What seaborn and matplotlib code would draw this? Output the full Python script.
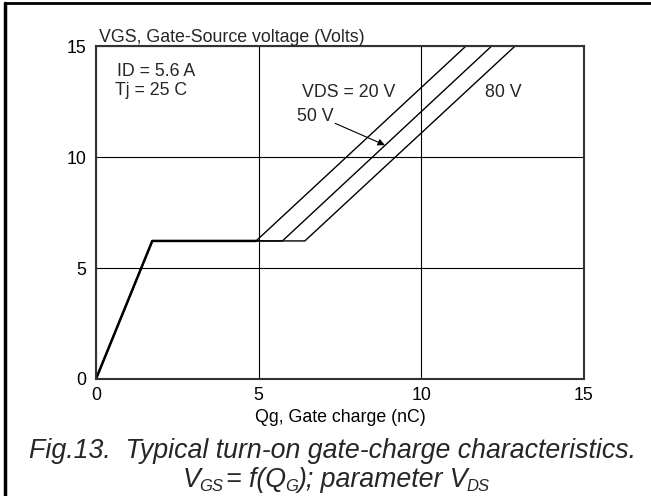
import pandas as pd
import numpy as np
import seaborn as sns
import matplotlib.pyplot as plt
from matplotlib.lines import Line2D

# gate charge curves, one per VDS
vds_names = ["20 V", "50 V", "80 V"]
qg_20 = [0, 1.73, 4.92, 11.37]
vgs_20 = [0, 6.22, 6.22, 15]
qg_50 = [0, 1.73, 5.73, 12.16]
vgs_50 = [0, 6.22, 6.22, 15]
qg_80 = [0, 1.73, 6.42, 12.88]
vgs_80 = [0, 6.22, 6.22, 15]

x_ticks = [0, 5, 10, 15]
y_ticks = [0, 5, 10, 15]

df = pd.concat([
    pd.DataFrame({"Qg": qg_20, "VGS": vgs_20, "VDS": vds_names[0]}),
    pd.DataFrame({"Qg": qg_50, "VGS": vgs_50, "VDS": vds_names[1]}),
    pd.DataFrame({"Qg": qg_80, "VGS": vgs_80, "VDS": vds_names[2]}),
])

sns.set_theme(style="white")
plt.rcParams['font.family'] = ['Liberation Sans', 'DejaVu Sans']

fs = 12.8

fig = plt.figure(figsize=(6.51, 4.96), dpi=100)
ax = fig.add_axes([0.1475, 0.236, 0.7495, 0.671])

sns.lineplot(data=df, x="Qg", y="VGS", hue="VDS", units="VDS", estimator=None,
             sort=False, palette=["black"] * 3, linewidth=1.0, legend=False, ax=ax)
# shared rise + plateau drawn heavier like the original
ax.plot(qg_20[:3], vgs_20[:3], color="black", linewidth=1.8)

ax.set_xlim(0, 15)
ax.set_ylim(0, 15)
ax.set_xticks(x_ticks)
ax.set_yticks(y_ticks)
ax.tick_params(axis="both", labelsize=fs, length=0, colors="black")
ax.tick_params(axis="y", pad=7)
ax.tick_params(axis="x", pad=6)
ax.grid(True, color="black", linewidth=0.8)
for s in ax.spines.values():
    s.set_color("#333333")
    s.set_linewidth(1.5)
ax.set_xlabel("Qg, Gate charge (nC)", fontsize=fs, labelpad=3.5, color="black")
ax.set_ylabel("")

ax.text(0.007, 1.0, "VGS, Gate-Source voltage (Volts)", transform=ax.transAxes,
        fontsize=fs, va="bottom", ha="left")
ax.text(0.64, 13.84, "ID = 5.6 A", fontsize=fs, va="center")
ax.text(0.58, 12.99, "Tj = 25 C", fontsize=fs, va="center")
ax.text(6.32, 12.9, "VDS = 20 V", fontsize=fs, va="center")
ax.text(11.96, 12.9, "80 V", fontsize=fs, va="center")
ax.text(6.17, 11.82, "50 V", fontsize=fs, va="center")
ax.annotate("", xy=(8.88, 10.54), xytext=(7.35, 11.52),
            arrowprops=dict(arrowstyle="-|>", color="black", lw=0.8,
                            mutation_scale=10, shrinkA=0, shrinkB=0))

# caption
cap_fs = 19.25
sub_fs = 12
fig.text(0.51, 0.0766, "Fig.13.  Typical turn-on gate-charge characteristics.",
         fontsize=cap_fs, style="italic", ha="center", va="baseline")

# second line built piece by piece so the subscripts stay small
pieces = [("GS", True), ("= f(Q", False), ("G", True),
          ("); parameter V", False), ("DS", True)]
main = fig.text(0.281, 0.0181, "V", fontsize=cap_fs, style="italic",
                ha="left", va="baseline")
prev = main
for txt, is_sub in pieces:
    if is_sub:
        prev = ax.annotate(txt, xy=(1, 0), xycoords=(prev, main),
                           xytext=(-1, -1), textcoords="offset points",
                           fontsize=sub_fs, style="italic", ha="left", va="bottom",
                           annotation_clip=False)
    else:
        gap = 2 if txt.startswith("=") else 0
        prev = ax.annotate(txt, xy=(1, 0), xycoords=(prev, main),
                           xytext=(gap, 0), textcoords="offset points",
                           fontsize=cap_fs, style="italic", ha="left", va="bottom",
                           annotation_clip=False)
        main = prev

# frame lines at top and left of the picture
fig.add_artist(Line2D([0.008, 0.008], [0, 0.994], transform=fig.transFigure,
                      color="black", linewidth=2.5))
fig.add_artist(Line2D([0.008, 1], [0.994, 0.994], transform=fig.transFigure,
                      color="black", linewidth=2))

fig.savefig("out.png", dpi=100)
